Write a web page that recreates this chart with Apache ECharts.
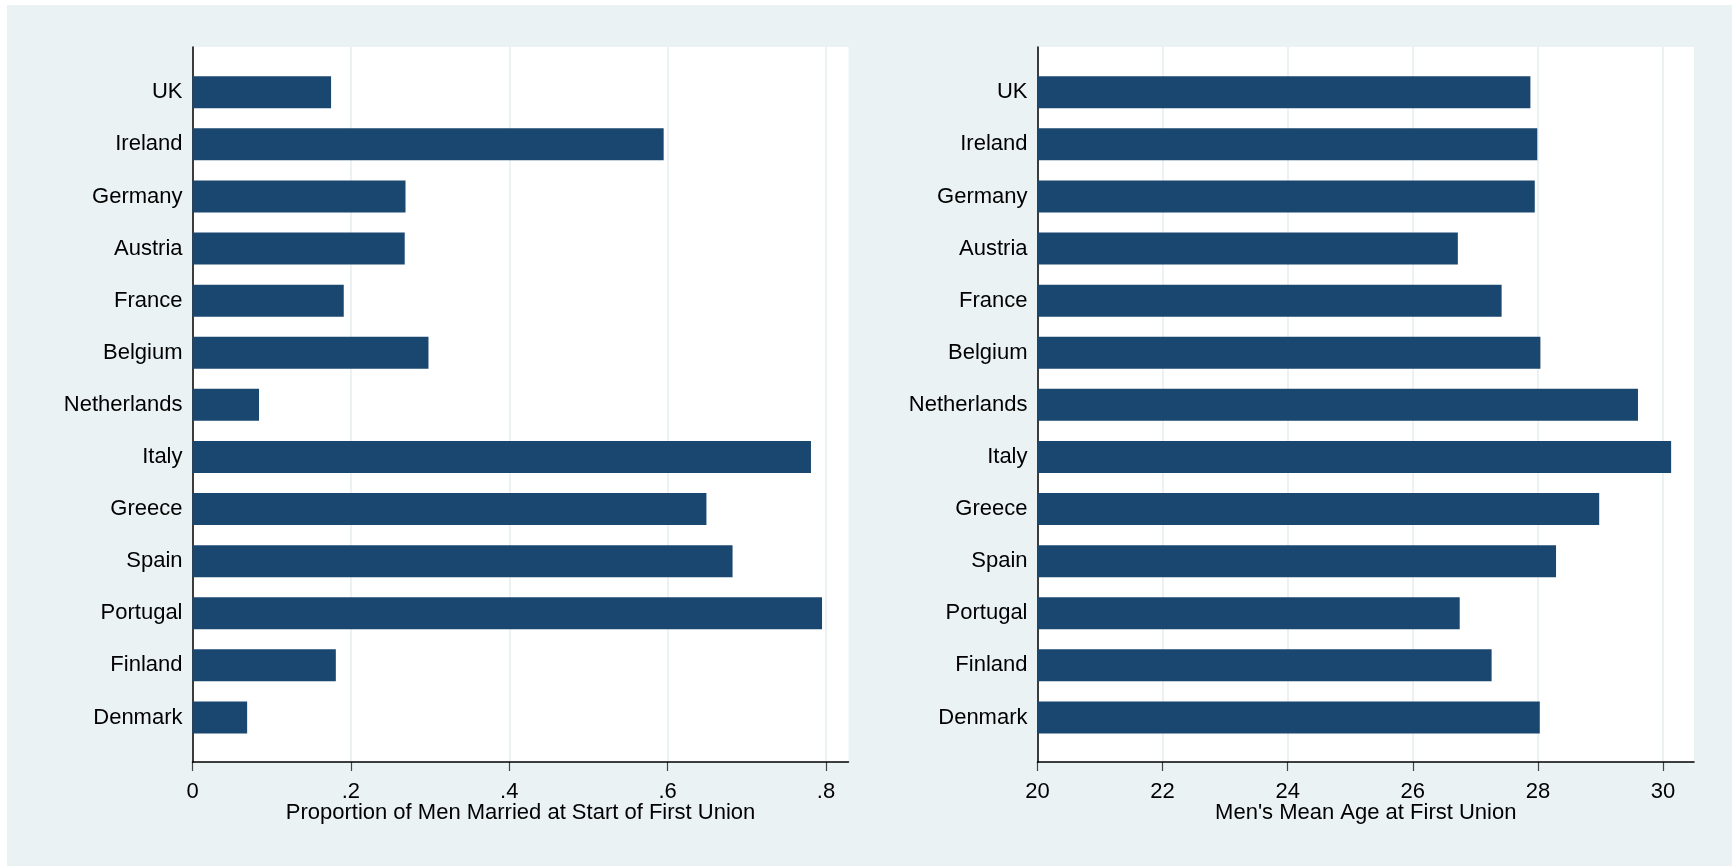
<!DOCTYPE html>
<html>
<head>
<meta charset="utf-8">
<script src="https://cdn.jsdelivr.net/npm/echarts@6/dist/echarts.min.js"></script>
<style>
html, body { margin: 0; padding: 0; background: #ffffff; }
#chart { position: absolute; left: 7px; top: 5px; width: 1725px; height: 861px; }
</style>
</head>
<body>
<div id="chart"></div>
<script>
// ---- data ----
const countries = ["UK", "Ireland", "Germany", "Austria", "France", "Belgium", "Netherlands", "Italy", "Greece", "Spain", "Portugal", "Finland", "Denmark"];
const propMarried = [0.175, 0.595, 0.269, 0.268, 0.191, 0.298, 0.084, 0.781, 0.649, 0.682, 0.795, 0.181, 0.069];
const meanAge = [27.88, 27.99, 27.95, 26.72, 27.42, 28.04, 29.60, 30.13, 28.98, 28.29, 26.75, 27.26, 28.03];
const leftTicks = [0, 0.2, 0.4, 0.6, 0.8];
const rightTicks = [20, 22, 24, 26, 28, 30];
const leftTitle = "Proportion of Men Married at Start of First Union";
const rightTitle = "Men's Mean Age at First Union";

// ---- style / layout ----
const FONT = "'Liberation Sans', Arial, Helvetica, sans-serif";
const BAR = "#1a476f";
const GRIDLINE = "#e6eef1";
// plot regions (px inside chart): full white region, and the part up to the last tick
const L = { left: 185.5, full: 656, tick: 633.5 };
const R = { left: 1030.5, full: 656.5, tick: 625.5 };
function fullMax(ticks, reg) {
  const lo = ticks[0], hi = ticks[ticks.length - 1];
  return lo + (hi - lo) * reg.full / reg.tick;
}

const chart = echarts.init(document.getElementById('chart'), null, { renderer: 'canvas' });

function frameXAxis(gridIndex, title) {
  return {
    type: 'value', gridIndex: gridIndex, min: 0, max: 1, z: 4,
    axisLine: { show: true, onZero: false, lineStyle: { color: '#000', width: 1.5 } },
    axisTick: { show: false }, axisLabel: { show: false }, splitLine: { show: false },
    name: title, nameLocation: 'middle', nameGap: 40, nameMoveOverlap: false,
    nameTextStyle: { color: '#000', fontSize: 22, fontFamily: FONT }
  };
}
function frameYAxis(gridIndex) {
  return {
    type: 'value', gridIndex: gridIndex, min: 0, max: 1, z: 4,
    axisLine: { show: true, onZero: false, lineStyle: { color: '#000', width: 1.5 } },
    axisTick: { show: false }, axisLabel: { show: false }, splitLine: { show: false }
  };
}
function tickXAxis(gridIndex, ticks, fmt) {
  const n = ticks.length;
  return {
    type: 'value', gridIndex: gridIndex, min: ticks[0], max: ticks[n - 1], interval: ticks[1] - ticks[0], z: 2,
    axisLine: { show: false },
    axisTick: { show: true, length: 9, lineStyle: { color: '#444', width: 1.2 } },
    axisLabel: { show: true, margin: 19, color: '#000', fontSize: 22, fontFamily: FONT, formatter: fmt },
    splitLine: { show: true, lineStyle: { color: GRIDLINE, width: 1.5 } }
  };
}
function hiddenYAxis(gridIndex) {
  return { type: 'value', gridIndex: gridIndex, min: 0, max: 1, show: false, splitLine: { show: false } };
}
function barXAxis(gridIndex, ticks, reg) {
  return { type: 'value', gridIndex: gridIndex, min: ticks[0], max: fullMax(ticks, reg), show: false, splitLine: { show: false } };
}
function catYAxis(gridIndex) {
  return {
    type: 'category', gridIndex: gridIndex, data: countries, inverse: true, z: 6,
    axisLine: { show: false }, axisTick: { show: false },
    axisLabel: { margin: 10, color: '#000', fontSize: 22, fontFamily: FONT, padding: [8, 0, 0, 0] },
    splitLine: { show: false }
  };
}

const leftFmt = function (v) {
  if (v === 0) return '0';
  return String(+v.toFixed(1)).replace(/^0\./, '.');
};
const rightFmt = function (v) { return String(v); };

const G = { outerBoundsMode: 'none', containLabel: false };
chart.setOption({
  backgroundColor: '#eaf2f3',
  animation: false,
  grid: [
    Object.assign({ left: L.left, width: L.full, top: 42, bottom: 104, show: true, backgroundColor: '#ffffff', borderWidth: 0, z: 0 }, G),
    Object.assign({ left: L.left, width: L.tick, top: 42, bottom: 104 }, G),
    Object.assign({ left: L.left, width: L.full, top: 61.2, height: 677.3 }, G),
    Object.assign({ left: R.left, width: R.full, top: 42, bottom: 104, show: true, backgroundColor: '#ffffff', borderWidth: 0, z: 0 }, G),
    Object.assign({ left: R.left, width: R.tick, top: 42, bottom: 104 }, G),
    Object.assign({ left: R.left, width: R.full, top: 61.2, height: 677.3 }, G)
  ],
  xAxis: [
    frameXAxis(0, leftTitle),
    tickXAxis(1, leftTicks, leftFmt),
    barXAxis(2, leftTicks, L),
    frameXAxis(3, rightTitle),
    tickXAxis(4, rightTicks, rightFmt),
    barXAxis(5, rightTicks, R)
  ],
  yAxis: [frameYAxis(0), hiddenYAxis(1), catYAxis(2), frameYAxis(3), hiddenYAxis(4), catYAxis(5)],
  series: [
    { type: 'bar', xAxisIndex: 2, yAxisIndex: 2, data: propMarried, barWidth: 32, itemStyle: { color: BAR }, z: 5 },
    { type: 'bar', xAxisIndex: 5, yAxisIndex: 5, data: meanAge, barWidth: 32, itemStyle: { color: BAR }, z: 5 }
  ]
});
</script>
</body>
</html>
